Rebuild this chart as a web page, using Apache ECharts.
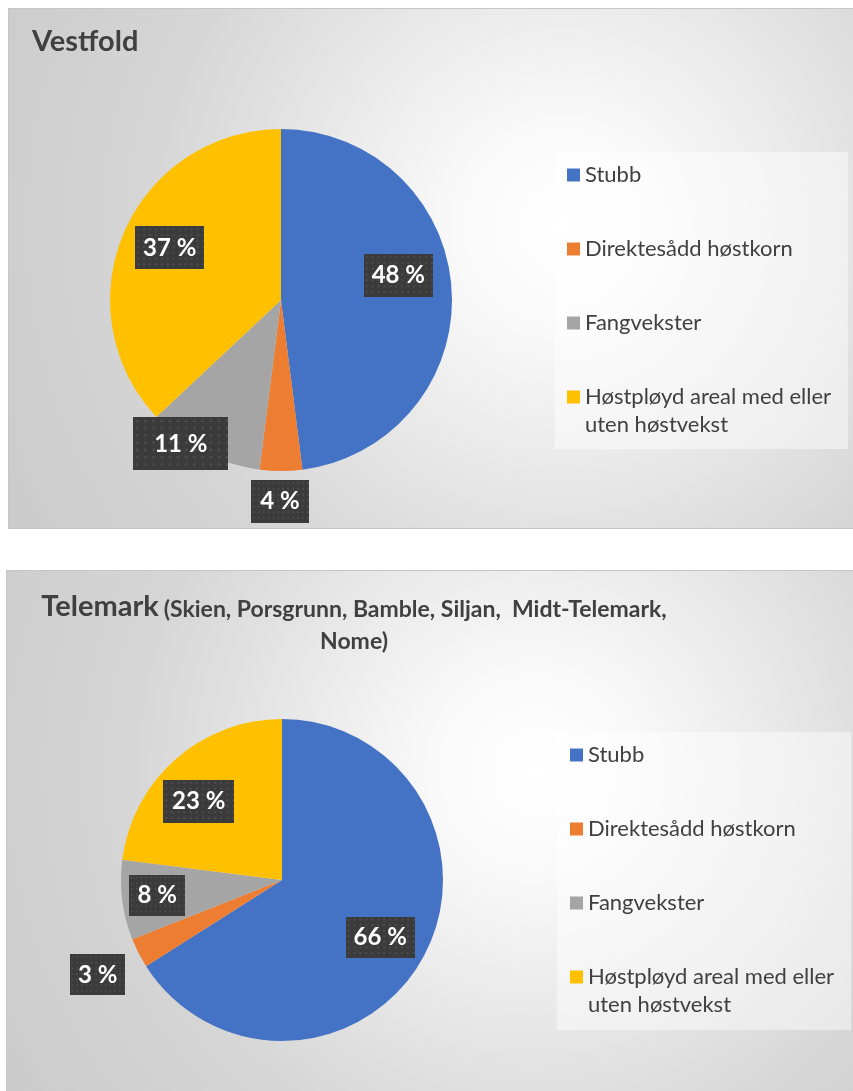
<!DOCTYPE html>
<html>
<head>
<meta charset="utf-8">
<script src="https://cdn.jsdelivr.net/npm/echarts@6/dist/echarts.min.js"></script>
<style>
  html, body { margin: 0; padding: 0; background: #fff; }
  body { width: 853px; height: 1091px; position: relative; overflow: hidden; }
  .panel { position: absolute; box-sizing: border-box; border: 1px solid #c6c6c6; }
  #p1 {
    left: 8px; top: 8px; width: 852px; height: 521px;
    background: radial-gradient(circle at 65% 42%, #ffffff 0%, #fafafa 15%, #e8e8e8 40%, #d6d6d6 65%, #cbcbcb 100%);
  }
  #p2 {
    left: 6px; top: 570px; width: 854px; height: 530px;
    background: radial-gradient(circle at 62% 38%, #ffffff 0%, #fafafa 15%, #e8e8e8 40%, #d6d6d6 65%, #cbcbcb 100%);
  }
  #chart { position: absolute; left: 0; top: 0; width: 853px; height: 1091px; }
</style>
</head>
<body>
<div class="panel" id="p1"></div>
<div class="panel" id="p2"></div>
<div id="chart"></div>
<script>
// data
const categories = ['Stubb', 'Direktesådd høstkorn', 'Fangvekster', 'Høstpløyd areal med eller uten høstvekst']
const vestfoldValues = [48, 4, 11, 37]
const telemarkValues = [66, 3, 8, 23]
const colors = ['#4472C4', '#ED7D31', '#A5A5A5', '#FFC000']

// label nudges from the inside position, and box padding (Excel placed them by hand)
const vestfoldLabelShift = [[29, -19], [-1, 113], [-60, 65], [-30, -17]]
const vestfoldLabelPad = [[9, 8], [9, 9], [14, 21], [9, 8]]
const telemarkLabelShift = [[25, 17], [-110, 57], [-42, 5], [-28, -16]]
const telemarkLabelPad = [[8, 8], [8, 8], [8, 8], [9, 9]]

const font = 'Lato'
const textColor = '#404040'

// dotted fill used by Excel's label boxes
function dotPattern() {
  const c = document.createElement('canvas')
  c.width = 70
  c.height = 44
  const ctx = c.getContext('2d')
  ctx.fillStyle = '#3b3b3b'
  ctx.fillRect(0, 0, c.width, c.height)
  ctx.fillStyle = '#4d4d4d'
  for (let y = 2; y < c.height; y += 6) {
    for (let x = 2; x < c.width; x += 6) {
      ctx.fillRect(x, y, 2, 2)
    }
  }
  return c
}
const labelBg = { image: dotPattern() }

const chart = echarts.init(document.getElementById('chart'))

function pieData(values, pads) {
  return categories.map((name, i) => ({
    name: name,
    value: values[i],
    label: { padding: pads[i] }
  }))
}

function pieSeries(name, center, radius, values, shifts, pads) {
  return {
    name: name,
    type: 'pie',
    center: center,
    radius: radius,
    startAngle: 90,
    clockwise: true,
    avoidLabelOverlap: false,
    emphasis: { disabled: true },
    itemStyle: { borderWidth: 0 },
    label: {
      show: true,
      position: 'inside',
      formatter: '{c} %',
      fontFamily: font,
      fontSize: 24,
      fontWeight: 'bold',
      lineHeight: 25,
      color: '#fff',
      backgroundColor: labelBg,
      shadowColor: 'rgba(0,0,0,0.45)',
      shadowBlur: 5,
      shadowOffsetX: 3,
      shadowOffsetY: 3
    },
    labelLine: { show: false },
    labelLayout: function (p) {
      return { dx: shifts[p.dataIndex][0], dy: shifts[p.dataIndex][1] }
    },
    data: pieData(values, pads)
  }
}

function legendFor(left, top, pad) {
  return {
    orient: 'vertical',
    left: left,
    top: top,
    padding: pad,
    backgroundColor: 'rgba(255,255,255,0.45)',
    icon: 'rect',
    itemWidth: 13,
    itemHeight: 13,
    itemGap: 46,
    selectedMode: false,
    formatter: name => name.replace(' uten', '\nuten').split('\n').map(s => '{t|' + s + '}').join('\n'),
    textStyle: {
      fontFamily: font, fontSize: 22, lineHeight: 28, color: textColor,
      rich: { t: { fontFamily: font, fontSize: 22, lineHeight: 28, color: textColor } }
    },
    // negative bottom padding keeps the wrapped text's first line by the marker
    data: categories.map((n, i) => i === 3 ? { name: n, textStyle: { padding: [0, 0, -28, 0] } } : n)
  }
}

chart.setOption({
  animation: false,
  color: colors,
  title: [
    {
      text: 'Vestfold',
      left: 32,
      top: 28,
      padding: 0,
      textStyle: { fontFamily: font, fontSize: 29, fontWeight: 'bold', color: textColor, lineHeight: 28 }
    },
    {
      text: '{a|Telemark} {b|(Skien, Porsgrunn, Bamble, Siljan,  Midt-Telemark,}\n{c|Nome)}',
      left: 354,
      top: 589,
      padding: 0,
      textAlign: 'center',
      textStyle: {
        color: textColor,
        rich: {
          a: { fontFamily: font, fontSize: 29, fontWeight: 'bold', color: textColor, lineHeight: 32, verticalAlign: 'bottom' },
          b: { fontFamily: font, fontSize: 23, fontWeight: 'bold', color: textColor, lineHeight: 28, verticalAlign: 'bottom' },
          c: { fontFamily: font, fontSize: 23, fontWeight: 'bold', color: textColor, lineHeight: 32, verticalAlign: 'bottom' }
        }
      }
    }
  ],
  legend: [
    legendFor(555, 152, [9, 17, 13, 12]),
    legendFor(557, 732, [9, 17, 14, 13])
  ],
  series: [
    pieSeries('Vestfold', [281, 300], 171, vestfoldValues, vestfoldLabelShift, vestfoldLabelPad),
    pieSeries('Telemark', [282, 880], 161, telemarkValues, telemarkLabelShift, telemarkLabelPad)
  ]
})
</script>
</body>
</html>
